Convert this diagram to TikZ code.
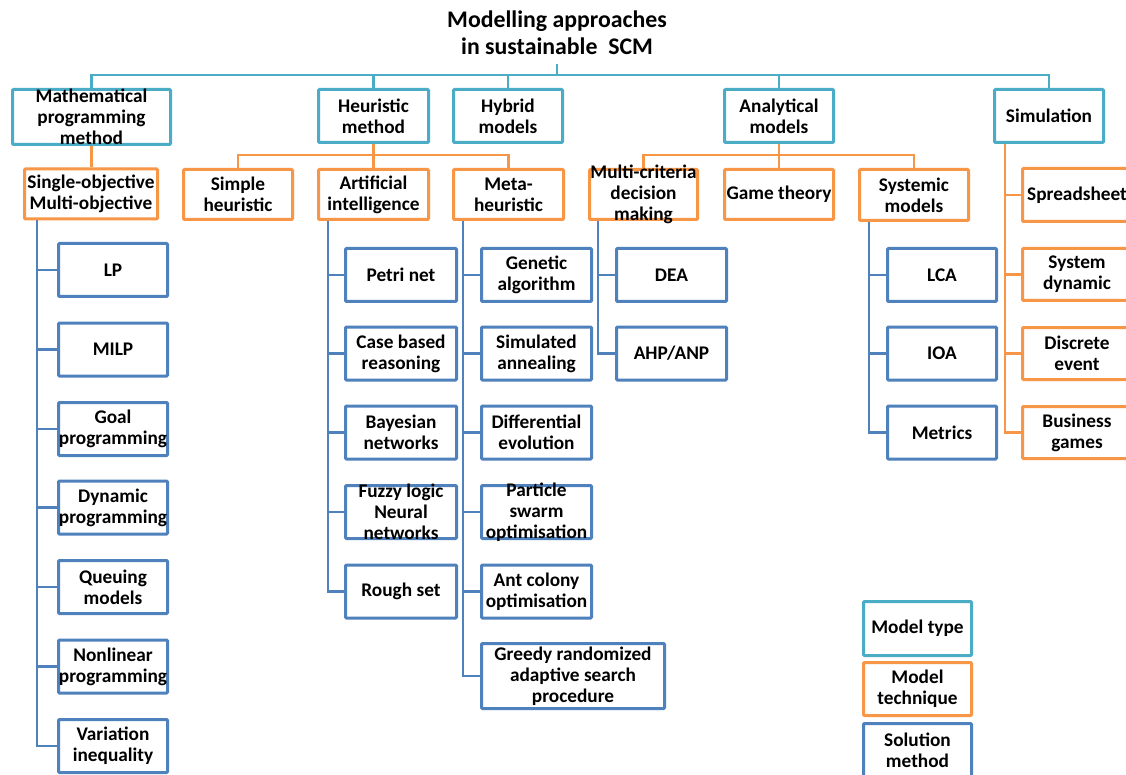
\documentclass[tikz,border=0pt]{standalone}
\usepackage{fontspec}
\setmainfont{Carlito}
\definecolor{mtype}{HTML}{4BACC6}
\definecolor{mtech}{HTML}{F79646}
\definecolor{msol}{HTML}{4F81BD}
\tikzset{
  box/.style={draw, line width=3pt, fill=white, rounded corners=1pt, inner sep=0pt},
  typebox/.style={box, draw=mtype},
  techbox/.style={box, draw=mtech},
  solbox/.style={box, draw=msol},
  txt/.style={font=\bfseries\fontsize{19.3}{21}\selectfont, align=center, inner sep=0pt, text=black},
  typeline/.style={draw=mtype, line width=2.8pt},
  techline/.style={draw=mtech, line width=2.8pt},
  solline/.style={draw=msol, line width=2.8pt},
}
% box outline plus its centred label
\newcommand\boxat[7]{%
  \node[#2, minimum width=#5pt, minimum height=#6pt] (#1) at (#3,#4) {};
  \node[txt] (#1-t) at (#1.center) {#7};}
\begin{document}
\begin{tikzpicture}[x=1pt,y=-1pt]
\fill[white] (0,0) rectangle (1126,775);
\useasboundingbox (0,0) rectangle (1126,775);

% title
\node[txt, font=\bfseries\fontsize{23.8}{27}\selectfont] (title) at (557,33)
  {Modelling approaches\\in sustainable~ SCM};
\coordinate (titlefoot) at (557,64);
\coordinate (bus) at (0,75);
\coordinate (hbus) at (0,155);

% model types
\boxat{math}{typebox}{91.5}{117}{158}{55}{Mathematical\\programming\\method}
\boxat{heur}{typebox}{373.5}{116}{110}{53}{Heuristic\\method}
\boxat{hyb}{typebox}{508}{116}{109}{53}{Hybrid\\models}
\boxat{anal}{typebox}{779}{116}{109}{53}{Analytical\\models}
\boxat{sim}{typebox}{1049}{116}{109}{53}{Simulation}

% model techniques
\boxat{single}{techbox}{91}{194}{133}{50}{Single-objective\\Multi-objective}
\boxat{simple}{techbox}{238}{194.5}{109}{50}{Simple\\heuristic}
\boxat{ai}{techbox}{373.5}{194.5}{110}{50}{Artificial\\intelligence}
\boxat{meta}{techbox}{508.5}{194.5}{110}{50}{Meta-\\heuristic}
\boxat{mcdm}{techbox}{643.5}{194.5}{108}{50}{Multi-criteria\\decision\\making}
\boxat{game}{techbox}{779}{194.5}{109}{50}{Game theory}
\boxat{sysm}{techbox}{914}{195}{109}{51}{Systemic\\models}
\boxat{sprd}{techbox}{1077}{195}{109}{53}{Spreadsheet}
\boxat{sdyn}{techbox}{1077}{274.5}{109}{52}{System\\dynamic}
\boxat{disc}{techbox}{1077}{353.5}{109}{52}{Discrete\\event}
\boxat{bgam}{techbox}{1077}{432.5}{109}{52}{Business\\games}

% solution methods: mathematical programming
\boxat{lp}{solbox}{113}{270}{109}{53}{LP}
\boxat{milp}{solbox}{113}{349.5}{109}{53}{MILP}
\boxat{goal}{solbox}{113}{429}{109}{53}{Goal\\programming}
\boxat{dyn}{solbox}{113}{507.5}{109}{53}{Dynamic\\programming}
\boxat{queue}{solbox}{113}{587}{109}{53}{Queuing\\models}
\boxat{nlp}{solbox}{113}{666.5}{109}{53}{Nonlinear\\programming}
\boxat{vi}{solbox}{113}{746}{109}{53}{Variation\\inequality}

% artificial intelligence
\boxat{petri}{solbox}{401}{275}{111}{53}{Petri net}
\boxat{cbr}{solbox}{401}{353.5}{111}{53}{Case based\\reasoning}
\boxat{bayes}{solbox}{401}{432.5}{111}{53}{Bayesian\\networks}
\boxat{fuzzy}{solbox}{401}{512}{111}{53}{Fuzzy logic\\Neural\\networks}
\boxat{rough}{solbox}{401}{591.5}{111}{53}{Rough set}

% meta-heuristics
\boxat{ga}{solbox}{536.5}{275}{110}{53}{Genetic\\algorithm}
\boxat{sa}{solbox}{536.5}{353.5}{110}{53}{Simulated\\annealing}
\boxat{de}{solbox}{536.5}{432.5}{110}{53}{Differential\\evolution}
\boxat{pso}{solbox}{536.5}{512}{110}{53}{Particle\\swarm\\optimisation}
\boxat{aco}{solbox}{536.5}{591.5}{110}{53}{Ant colony\\optimisation}
\boxat{grasp}{solbox}{573}{676}{183}{65}{Greedy randomized\\adaptive search\\procedure}

% multi-criteria decision making
\boxat{dea}{solbox}{671.5}{275}{110}{53}{DEA}
\boxat{ahp}{solbox}{671.5}{353.5}{110}{53}{AHP/ANP}

% systemic models
\boxat{lca}{solbox}{942}{275}{109}{53}{LCA}
\boxat{ioa}{solbox}{942}{353.5}{109}{53}{IOA}
\boxat{metr}{solbox}{942}{432.5}{109}{53}{Metrics}

% legend
\boxat{ltype}{typebox}{917.5}{628.5}{108}{54}{Model type}
\boxat{ltech}{techbox}{917.5}{689}{108}{53}{Model\\technique}
\boxat{lsol}{solbox}{917.5}{750}{108}{53}{Solution\\method}

% top level connectors
\draw[typeline] (titlefoot) -- (titlefoot |- bus);
\draw[typeline] (math.north) |- (sim.north |- bus) -- (sim.north);
\foreach \n in {heur,hyb,anal} \draw[typeline] (\n.north) -- (\n.north |- bus);

% technique connectors
\draw[techline] (math.south) -- (math.south |- single.north);
\draw[techline] (simple.north) |- (meta.north |- hbus) -- (meta.north);
\draw[techline] (heur.south) -- (heur.south |- ai.north);
\draw[techline] (mcdm.north) |- (sysm.north |- hbus) -- (sysm.north);
\draw[techline] (anal.south) -- (anal.south |- game.north);
\coordinate (simv) at ([xshift=12pt]sim.south west);
\draw[techline] (simv) |- (bgam.west);
\foreach \n in {sprd,sdyn,disc} \draw[techline] (simv |- \n.west) -- (\n.west);

% solution connectors
\coordinate (mv) at ([xshift=14pt]single.south west);
\draw[solline] (mv) |- (vi.west);
\foreach \n in {lp,milp,goal,dyn,queue,nlp} \draw[solline] (mv |- \n.west) -- (\n.west);

\coordinate (aiv) at ([xshift=11pt]ai.south west);
\draw[solline] (aiv) |- (rough.west);
\foreach \n in {petri,cbr,bayes,fuzzy} \draw[solline] (aiv |- \n.west) -- (\n.west);

\coordinate (mhv) at ([xshift=11pt]meta.south west);
\draw[solline] (mhv) |- (grasp.west);
\foreach \n in {ga,sa,de,pso,aco} \draw[solline] (mhv |- \n.west) -- (\n.west);

\coordinate (mcv) at ([xshift=10pt]mcdm.south west);
\draw[solline] (mcv) |- (ahp.west);
\draw[solline] (mcv |- dea.west) -- (dea.west);

\coordinate (syv) at ([xshift=11pt]sysm.south west);
\draw[solline] (syv) |- (metr.west);
\foreach \n in {lca,ioa} \draw[solline] (syv |- \n.west) -- (\n.west);
\end{tikzpicture}
\end{document}
